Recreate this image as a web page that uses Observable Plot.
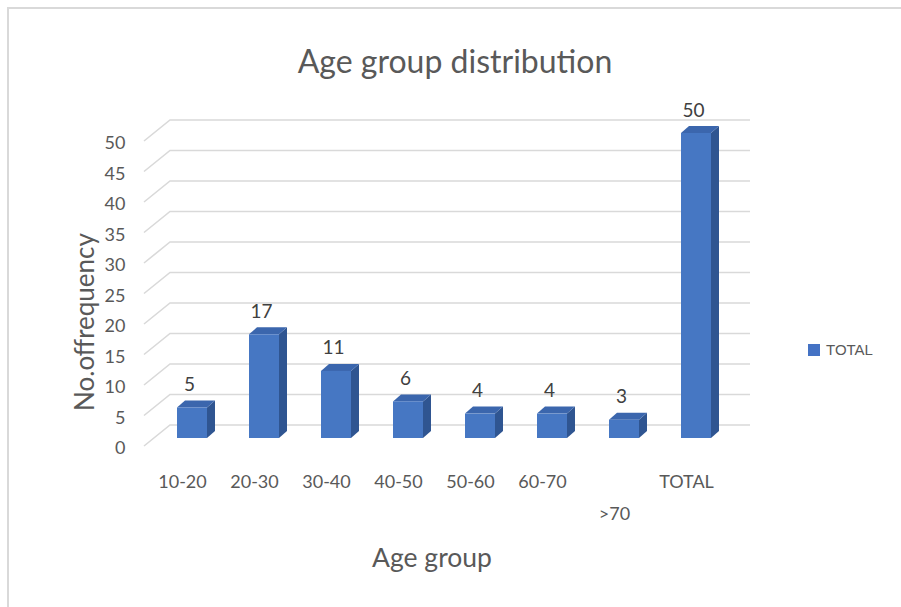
<!DOCTYPE html>
<html>
<head>
<meta charset="utf-8">
<script src="https://cdn.jsdelivr.net/npm/d3@7"></script>
<script src="https://cdn.jsdelivr.net/npm/@observablehq/plot@0.6"></script>
<style>
  html, body { margin: 0; padding: 0; background: #fff; }
  #wrap { position: relative; width: 901px; height: 607px; overflow: hidden; font-family: Lato, "Open Sans", sans-serif; }
  #frame { position: absolute; left: 7px; top: 7px; width: 900px; height: 610px; border-top: 2px solid #d9d9d9; border-left: 2px solid #d9d9d9; }
  #chart { position: absolute; left: 0; top: 0; }
  .t { position: absolute; white-space: nowrap; color: #595959; }
  #title { left: 455px; top: 60px; transform: translate(-50%, -50%); font-size: 32px; }
  #ylab { left: 84px; top: 322px; transform: translate(-50%, -50%) rotate(-90deg); font-size: 26px; }
  #xlab { left: 432px; top: 557px; transform: translate(-50%, -50%); font-size: 26.5px; }
  #legend { left: 808px; top: 341px; font-family: "Liberation Sans Narrow", "Liberation Sans", sans-serif; font-size: 15px; display: flex; align-items: center; }
  #legend .sw { width: 12px; height: 12px; background: #4472c4; margin-right: 6px; }
</style>
</head>
<body>
<div id="wrap">
  <div id="frame"></div>
  <div id="chart"></div>
  <div class="t" id="title">Age group distribution</div>
  <div class="t" id="ylab">No.offrequency</div>
  <div class="t" id="xlab">Age group</div>
  <div class="t" id="legend"><div class="sw"></div><span>TOTAL</span></div>
</div>
<script>
// ---- data ----
const categories = ["10-20", "20-30", "30-40", "40-50", "50-60", "60-70", ">70", "TOTAL"];
const totals = [5, 17, 11, 6, 4, 4, 3, 50];
const yTicks = [0, 5, 10, 15, 20, 25, 30, 35, 40, 45, 50];
const seriesName = "TOTAL";

const data = categories.map((c, i) => ({category: c, value: totals[i]}));

// ---- style constants ----
const FRONT = "#4677c3", SIDE = "#2f5591", TOP = "#3b66ad";
const BAR_W = 30, DEPTH_X = 8, DEPTH_Y = 7;

const gridMark = Plot.ruleY(yTicks, {
  y: d => d,
  render: (index, scales, values, dims) => {
    const g = d3.create("svg:g").attr("fill", "none").attr("stroke", "#d9d9d9").attr("stroke-width", 1.6);
    const xFront = dims.marginLeft - 9, xBack = dims.marginLeft + 17, xEnd = dims.width - dims.marginRight + 19;
    for (const i of index) {
      const yv = scales.y(yTicks[i]);
      g.append("path").attr("d", `M${xFront},${yv + 8}L${xBack},${yv - 13}L${xEnd},${yv - 13}`);
    }
    return g.node();
  }
});

const barMark = Plot.barY(data, {
  x: "category",
  y: "value",
  render: (index, scales, values, dims) => {
    const g = d3.create("svg:g");
    const bw = scales.x.bandwidth();
    for (const i of index) {
      const xl = values.x[i] + (bw - BAR_W) / 2 + 2, xr = xl + BAR_W;
      const yt = Math.min(values.y1[i], values.y2[i]), yb = Math.max(values.y1[i], values.y2[i]);
      g.append("path").attr("fill", SIDE)
        .attr("d", `M${xr},${yb}L${xr + DEPTH_X},${yb - DEPTH_Y}L${xr + DEPTH_X},${yt - DEPTH_Y}L${xr},${yt}Z`);
      g.append("path").attr("fill", TOP)
        .attr("d", `M${xl},${yt}L${xl + DEPTH_X},${yt - DEPTH_Y}L${xr + DEPTH_X},${yt - DEPTH_Y}L${xr},${yt}Z`);
      g.append("rect").attr("fill", FRONT)
        .attr("x", xl).attr("y", yt).attr("width", BAR_W).attr("height", yb - yt);
    }
    return g.node();
  }
});

const chart = Plot.plot({
  width: 901,
  height: 607,
  marginLeft: 153,
  marginRight: 170,
  marginTop: 133,
  marginBottom: 169,
  style: {fontFamily: "Lato, 'Open Sans', sans-serif", background: "transparent", overflow: "visible"},
  x: {domain: categories, padding: 0},
  y: {domain: [0, 50]},
  marks: [
    gridMark,
    barMark,
    Plot.text(data, {x: "category", y: "value", text: d => String(d.value), dy: -23, dx: -1, fontSize: 19, fill: "#404040"}),
    Plot.axisY({ticks: yTicks, tickSize: 0, tickPadding: 28, dy: 10, fontSize: 18, fill: "#595959", label: null}),
    Plot.axisX({tickSize: 0, tickPadding: 26, dx: -8, fontSize: 18, fill: "#595959", lineHeight: 1.8,
      tickFormat: d => d === ">70" ? "\n>70" : d, label: null})
  ]
});
document.getElementById("chart").appendChild(chart);
</script>
</body>
</html>
